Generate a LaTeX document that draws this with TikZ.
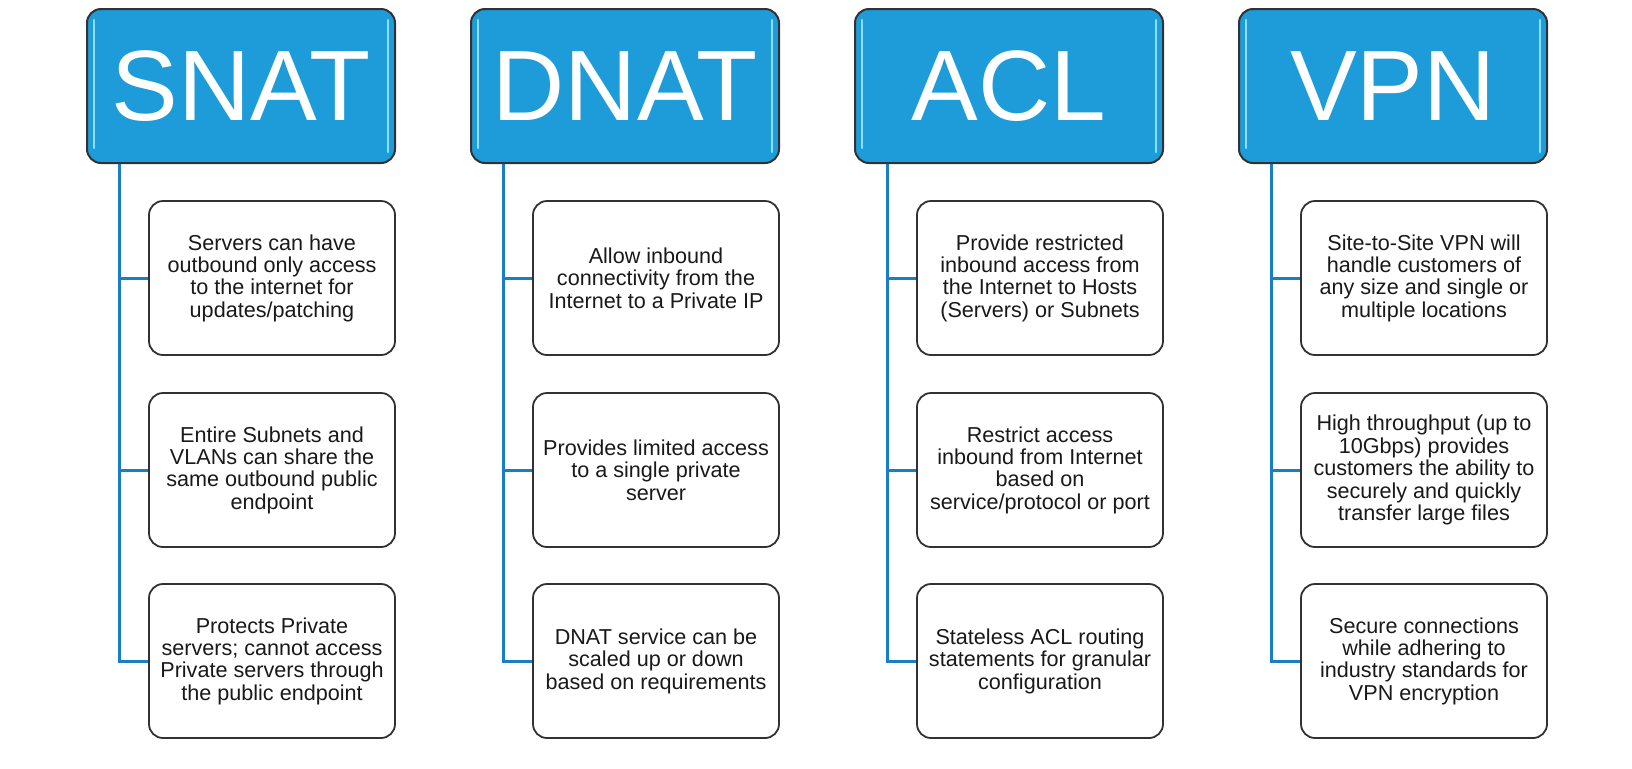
\documentclass[tikz,border=0pt]{standalone}
\usepackage{fontspec}
\setmainfont{Liberation Sans}
\usepackage{tikz}
\usetikzlibrary{positioning}

\definecolor{headblue}{RGB}{30,156,218}
\definecolor{shineblue}{RGB}{140,225,250}
\definecolor{linkblue}{RGB}{28,126,194}
\definecolor{edgegray}{RGB}{50,50,50}

\tikzset{
  head/.style={draw=edgegray, line width=1pt, fill=headblue, rounded corners=7pt,
    minimum width=154pt, minimum height=77pt, text=white, inner sep=0pt,
    font=\fontsize{50}{50}\selectfont},
  card/.style={draw=edgegray, line width=0.9pt, fill=white, rounded corners=7pt,
    minimum width=123pt, minimum height=77pt, align=center, inner sep=2pt,
    text=black!90, font=\fontsize{10.8}{11.2}\selectfont},
  link/.style={draw=linkblue, line width=1.5pt},
  shine/.style={draw=shineblue, line width=1.2pt, line cap=round}
}

\begin{document}
\begin{tikzpicture}[x=0.5pt, y=-0.5pt]
  \useasboundingbox (0,0) rectangle (1632,768);
  \fill[white] (0,0) rectangle (1632,768);

  % headers
  \node[head] (snat) at (241,86) {SNAT};
  \node[head] (dnat) at (625,86) {DNAT};
  \node[head] (acl) at (1009,86) {ACL};
  \node[head] (vpn) at (1393,86) {VPN};

  % SNAT
  \node[card] (snat1) at (272,278) {Servers can have\\outbound only access\\to the internet for\\updates/patching};
  \node[card] (snat2) at (272,470) {Entire Subnets and\\VLANs can share the\\same outbound public\\endpoint};
  \node[card] (snat3) at (272,661) {Protects Private\\servers; cannot access\\Private servers through\\the public endpoint};

  % DNAT
  \node[card] (dnat1) at (656,278) {Allow inbound\\connectivity from the\\Internet to a Private IP};
  \node[card] (dnat2) at (656,470) {Provides limited access\\to a single private\\server};
  \node[card] (dnat3) at (656,661) {DNAT service can be\\scaled up or down\\based on requirements};

  % ACL
  \node[card] (acl1) at (1040,278) {Provide restricted\\inbound access from\\the Internet to Hosts\\(Servers) or Subnets};
  \node[card] (acl2) at (1040,470) {Restrict access\\inbound from Internet\\based on\\service/protocol or port};
  \node[card] (acl3) at (1040,661) {Stateless ACL routing\\statements for granular\\configuration};

  % VPN
  \node[card] (vpn1) at (1424,278) {Site-to-Site VPN will\\handle customers of\\any size and single or\\multiple locations};
  \node[card] (vpn2) at (1424,470) {High throughput (up to\\10Gbps) provides\\customers the ability to\\securely and quickly\\transfer large files};
  \node[card] (vpn3) at (1424,661) {Secure connections\\while adhering to\\industry standards for\\VPN encryption};

  % glossy edges and connectors
  \foreach \c in {snat,dnat,acl,vpn} {
    \draw[shine] ([xshift=4pt,yshift=-6pt]\c.north west) -- ([xshift=4pt,yshift=8pt]\c.south west);
    \draw[shine] ([xshift=-4pt,yshift=-6pt]\c.north east) -- ([xshift=-4pt,yshift=6pt]\c.south east);
    \coordinate (\c-top) at ([xshift=16.5pt]\c.south west);
    \draw[link] (\c-top) |- (\c3.west);
    \foreach \k in {1,2}
      \draw[link] (\c-top |- \c\k.west) -- (\c\k.west);
  }
\end{tikzpicture}
\end{document}
